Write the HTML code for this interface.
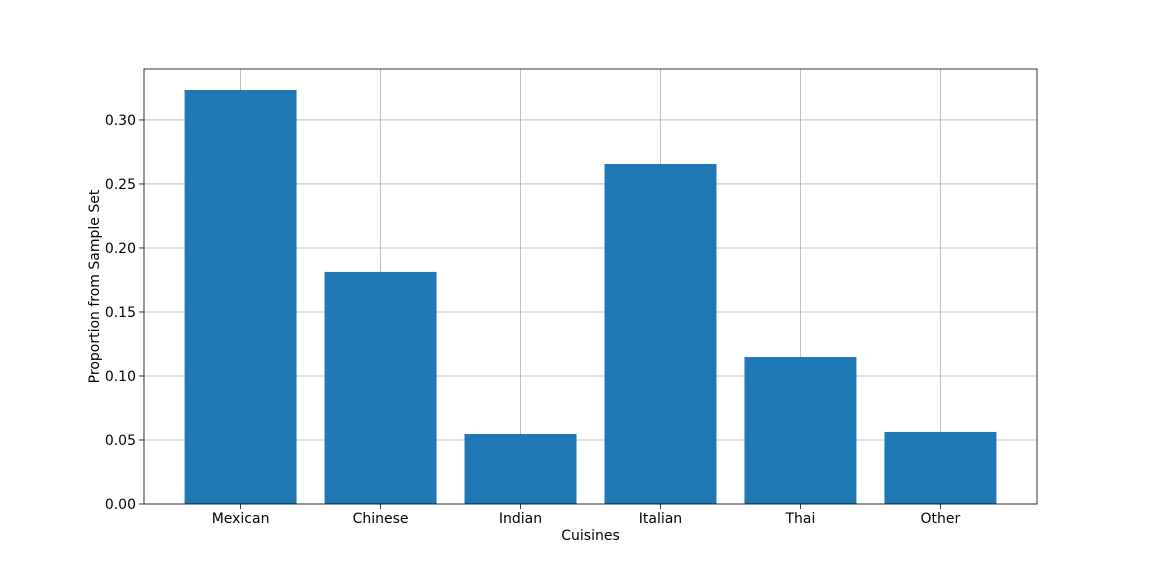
<!DOCTYPE html>
<html><head><meta charset="utf-8"><style>
html,body{margin:0;padding:0;background:#fff;}
svg{display:block;font-family:"DejaVu Sans","Liberation Sans",sans-serif;}
</style></head><body>
<svg id="chart" width="1152" height="576" viewBox="0 0 1152 576">
<rect width="1152" height="576" fill="#fff"/>
<g id="grid"></g><g id="bars"></g><g id="axes"></g>
</svg>
<script>
const categories = ["Mexican","Chinese","Indian","Italian","Thai","Other"];
const values = [0.3234, 0.1813, 0.0547, 0.2656, 0.1148, 0.0563];
const yTicks = [0,0.05,0.10,0.15,0.20,0.25,0.30];
const yTickLabels = ["0.00","0.05","0.10","0.15","0.20","0.25","0.30"];

const L=144,R=1037,T=69,B=504;
const yMax=0.3398, xMin=-0.69, xMax=5.69;
const y=v=>B-(v/yMax)*(B-T);
const x=i=>L+(i-xMin)/(xMax-xMin)*(R-L);
const ns="http://www.w3.org/2000/svg";
function mk(tag,attrs,parent,text){const e=document.createElementNS(ns,tag);for(const k in attrs)e.setAttribute(k,attrs[k]);if(text!==undefined)e.textContent=text;parent.appendChild(e);return e;}
const grid=document.getElementById('grid'),bars=document.getElementById('bars'),axes=document.getElementById('axes');

yTicks.forEach((t,i)=>{
  const g=mk('line',{x1:L,x2:R,y1:y(t),y2:y(t),stroke:'#b0b0b0','stroke-width':0.8},grid);
  
  
  const tk=mk('line',{x1:L-5,x2:L,y1:y(t),y2:y(t),stroke:'#000','stroke-width':0.8},axes);
  
  
  const lb=mk('text',{x:L-8,y:y(t)+5,'text-anchor':'end','font-size':14,fill:'#000'},axes,yTickLabels[i]);
  
  
});
const bw=0.8*(R-L)/(xMax-xMin);
categories.forEach((c,i)=>{
  const g=mk('line',{x1:x(i),x2:x(i),y1:T,y2:B,stroke:'#b0b0b0','stroke-width':0.8},grid);
  
  
  const r=mk('rect',{x:x(i)-bw/2,y:y(values[i]),width:bw,height:B-y(values[i]),fill:'#1f77b4'},bars);
  
  
  const tk=mk('line',{x1:x(i),x2:x(i),y1:B,y2:B+5,stroke:'#000','stroke-width':0.8},axes);
  
  
  const lb=mk('text',{x:x(i),y:B+19,'text-anchor':'middle','font-size':14,fill:'#000'},axes,c);
  
  
});
const fr=mk('rect',{x:L,y:T,width:R-L,height:B-T,fill:'none',stroke:'#000','stroke-width':0.8},axes);


const xt=mk('text',{x:(L+R)/2,y:540,'text-anchor':'middle','font-size':14,fill:'#000'},axes,'Cuisines');


const yt=mk('text',{x:0,y:0,'text-anchor':'middle','font-size':14,fill:'#000',transform:`translate(99,${(T+B)/2}) rotate(-90)`},axes,'Proportion from Sample Set');


</script>
</body></html>
